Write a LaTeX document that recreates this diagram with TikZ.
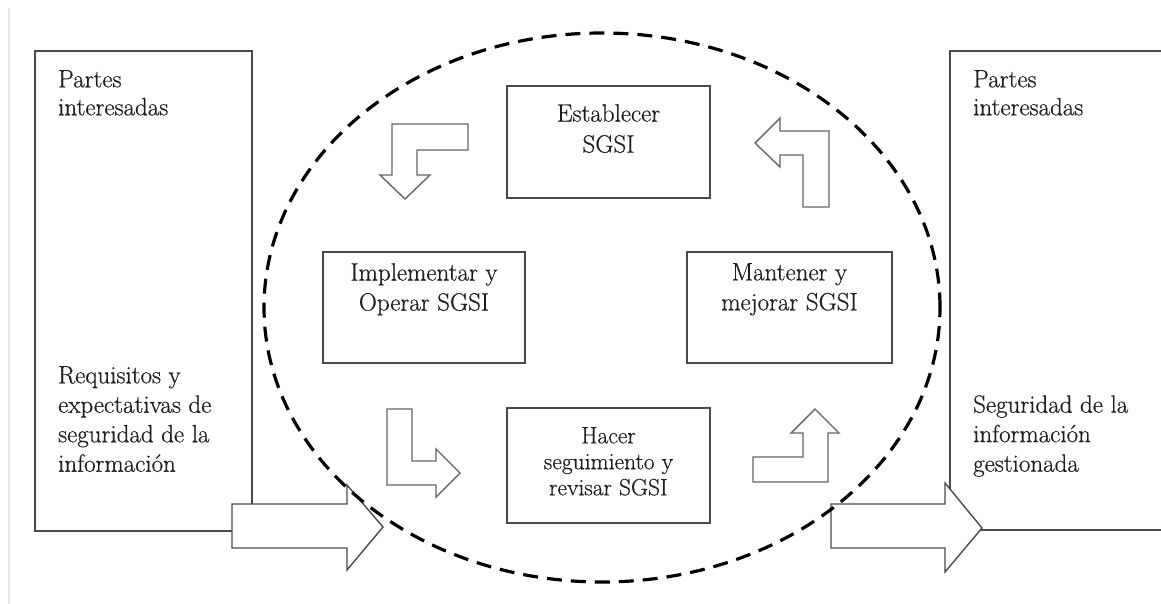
\documentclass[tikz,border=0pt]{standalone}
\usepackage{fontspec}
\setmainfont{Latin Modern Roman}[FakeBold=0.5]
\definecolor{boxgray}{HTML}{4A4A4A}
\definecolor{txtgray}{HTML}{1E1E1E}
\definecolor{edgegray}{HTML}{E6E6E6}
\begin{document}
\begin{tikzpicture}[x=1pt,y=-1pt,
  panel/.style={draw=boxgray, line width=1.5pt, fill=white, rectangle, inner sep=0pt},
  sidetxt/.style={anchor=north west, align=left, inner sep=0pt, text=txtgray,
    font=\fontsize{25}{29.5}\selectfont},
  stagetxt/.style={anchor=north, align=center, inner sep=0pt, text=txtgray,
    font=\fontsize{25}{30}\selectfont},
  blockarrow/.style={draw=boxgray, line width=1.4pt, fill=white, line join=miter},
  turnarrow/.style={draw=boxgray!85, line width=1.4pt, fill=white, line join=miter},
  ring/.style={draw=black, line width=3.2pt, dash pattern=on 15pt off 9pt}]
\useasboundingbox (0,0) rectangle (1161,604);
\clip (0,0) rectangle (1161,604);
\fill[white] (0,0) rectangle (1161,604);
\draw[edgegray, line width=2.5pt] (9,8) -- (9,604);

% left panel
\node[panel, minimum width=217pt, minimum height=480pt] (lin) at (143.5,291) {};
\node[sidetxt, font=\fontsize{25}{28}\selectfont] (lin1) at (58,70) {Partes\\interesadas};
\node[sidetxt] (lin2) at (58,366) {Requisitos y\\expectativas de\\seguridad de la\\información};

% input arrow
\draw[blockarrow] (232,504) -- (347,504) -- (347,485) -- (383,527) -- (347,570) -- (347,548) -- (232,548) -- cycle;

% right panel
\node[panel, minimum width=225pt, minimum height=479pt] (rout) at (1062.5,290.5) {};
\node[sidetxt, font=\fontsize{25}{28}\selectfont] (rout1) at (973,70) {Partes\\interesadas};
\node[sidetxt] (rout2) at (973,395) {Seguridad de la\\información\\gestionada};

% output arrow
\draw[blockarrow] (831,504) -- (945,504) -- (945,483) -- (982,528) -- (945,572) -- (945,548) -- (831,548) -- cycle;

% stage boxes
\node[panel, minimum width=203pt, minimum height=112pt] (est) at (608.5,142) {};
\node[stagetxt, font=\fontsize{25}{31}\selectfont] (estt) at (608.5,104) {Establecer\\SGSI};
\node[panel, minimum width=202pt, minimum height=111pt] (imp) at (424,307.5) {};
\node[stagetxt] (impt) at (424,263) {Implementar y\\Operar SGSI};
\node[panel, minimum width=205pt, minimum height=111pt] (man) at (789.5,307.5) {};
\node[stagetxt] (mant) at (789.5,263) {Mantener y\\mejorar SGSI};
\node[panel, minimum width=203pt, minimum height=115pt] (hac) at (608.5,465.5) {};
\node[stagetxt, font=\fontsize{23.5}{26}\selectfont] (hact) at (608.5,427) {Hacer\\seguimiento y\\revisar SGSI};

% turn arrows
\draw[turnarrow] (392,124) -- (468,124) -- (468,150) -- (417,150) -- (417,175) -- (430,175) -- (405,199) -- (380,175) -- (392,175) -- cycle;
\draw[turnarrow] (829,131) -- (829,207) -- (803,207) -- (803,155) -- (780,155) -- (780,167) -- (755,143) -- (780,118) -- (780,131) -- cycle;
\draw[turnarrow] (387,409) -- (412,409) -- (412,461) -- (436,461) -- (436,449) -- (460,473) -- (436,497) -- (436,485) -- (387,485) -- cycle;
\draw[turnarrow] (753,457) -- (803,457) -- (803,433) -- (791,433) -- (815,409) -- (839,433) -- (828,433) -- (828,482) -- (753,482) -- cycle;

% PDCA ring
\draw[ring] (602,307.5) ellipse [x radius=338pt, y radius=274.5pt];
\end{tikzpicture}
\end{document}
